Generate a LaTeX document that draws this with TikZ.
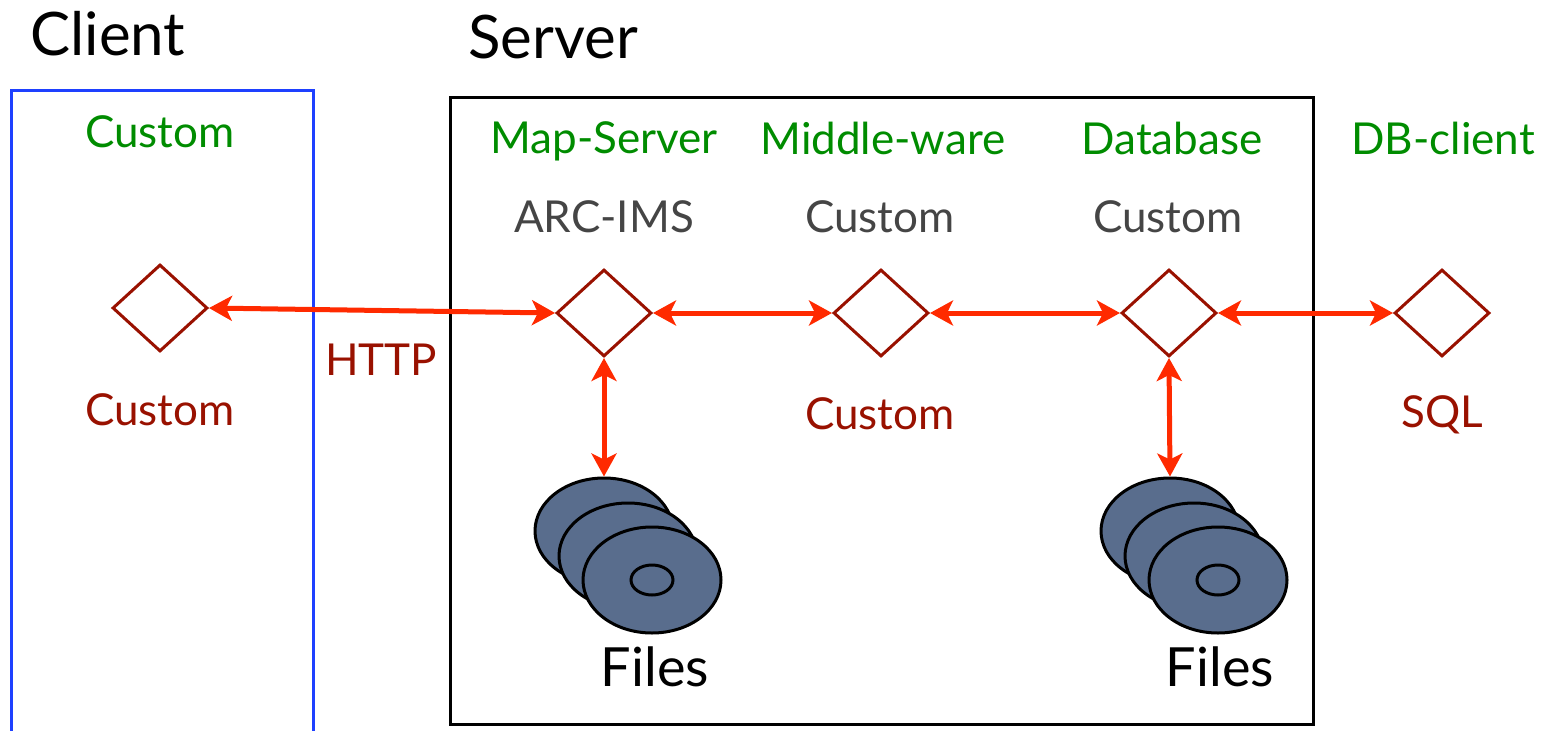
\documentclass[tikz,border=0pt]{standalone}
\usepackage{fontspec}
\setmainfont{Lato}
\usetikzlibrary{shapes.geometric,arrows.meta}
\definecolor{linkred}{HTML}{FF2A00}
\definecolor{nodered}{HTML}{991100}
\definecolor{tiergreen}{HTML}{008C00}
\definecolor{softgray}{HTML}{454545}
\definecolor{clientblue}{HTML}{1E40FF}
\definecolor{diskblue}{HTML}{596D8D}

\begin{document}
\begin{tikzpicture}[x=1pt,y=-1pt,
    tier/.style={anchor=base, text=tiergreen, font=\fontsize{44}{50}\selectfont},
    product/.style={anchor=base, text=softgray, font=\fontsize{44}{50}\selectfont},
    proto/.style={anchor=base, text=nodered, font=\fontsize{44}{50}\selectfont},
    heading/.style={anchor=base, font=\fontsize{60}{66}\selectfont},
    filelabel/.style={anchor=base, font=\fontsize{54}{60}\selectfont},
    port/.style={diamond, draw=nodered, line width=3pt, inner sep=0pt,
        minimum width=95pt, minimum height=87pt},
    disk/.style={ellipse, draw=black, fill=diskblue, line width=3pt, inner sep=0pt,
        minimum width=138pt, minimum height=106pt},
    hole/.style={ellipse, draw=black, line width=3pt, inner sep=0pt,
        minimum width=42pt, minimum height=30pt},
    link/.style={linkred, line width=5pt,
        {Stealth[length=23pt,width=25pt,inset=6pt]}-{Stealth[length=23pt,width=25pt,inset=6pt]}}]
    \useasboundingbox (0,0) rectangle (1556,731);

    % boxes
    \draw [clientblue, line width=3pt] (11,735) -- (11,90) -- (313,90) -- (313,735);
    \draw [line width=3pt] (450,97) rectangle (1313,724);
    \node [heading] (client) at (108,55) {Client};
    \node [heading] (server) at (553,58) {Server};

    % tiers
    \node [tier] (t-client) at (160,147) {Custom};
    \node [tier] (t-map) at (604,153) {Map-Server};
    \node [tier] (t-mid) at (883,154) {Middle-ware};
    \node [tier] (t-db) at (1172,154) {Database};
    \node [tier] (t-dbc) at (1443,154) {DB-client};
    \node [product] (p-map) at (604,232) {ARC-IMS};
    \node [product] (p-mid) at (880,232) {Custom};
    \node [product] (p-db) at (1168,232) {Custom};

    % ports
    \node [port] (cl) at (160,308) {};
    \node [port] (ms) at (604,313) {};
    \node [port] (mw) at (881,313) {};
    \node [port] (db) at (1169,313) {};
    \node [port] (dc) at (1442,313) {};

    \node [proto] (r-client) at (160,425) {Custom};
    \node [proto] (r-http) at (381,375) {HTTP};
    \node [proto] (r-mid) at (880,429) {Custom};
    \node [proto] (r-sql) at (1442,427) {SQL};

    % disks
    \foreach \s/\x in {ms/604, db/1170} {
        \node [disk] (\s-a) at (\x,531) {};
        \node [disk] (\s-b) at (\x+24,556) {};
        \node [disk] (\s-c) at (\x+48,580) {};
        \node [hole] (\s-h) at (\x+48,580) {};
    }
    \node [filelabel] (f-ms) at (655,686) {Files};
    \node [filelabel] (f-db) at (1220,686) {Files};

    % links
    \draw [link] (cl.east) -- (ms.west);
    \draw [link] (ms.east) -- (mw.west);
    \draw [link] (mw.east) -- (db.west);
    \draw [link] (db.east) -- (dc.west);
    \draw [link] (ms.south) -- (ms-a.north);
    \draw [link] (db.south) -- (db-a.north);
\end{tikzpicture}
\end{document}
